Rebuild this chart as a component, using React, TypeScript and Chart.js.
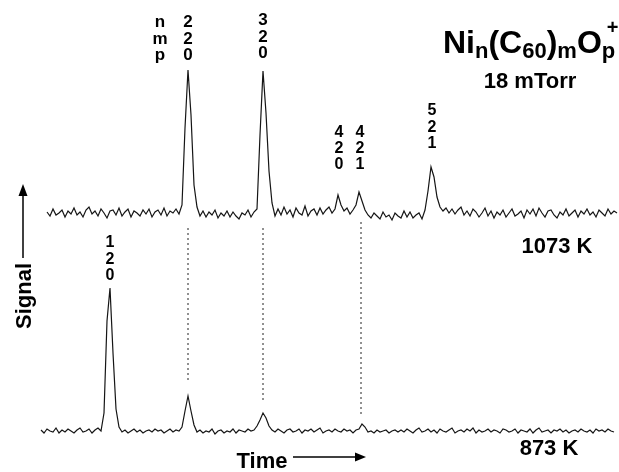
import React, { useEffect, useRef } from "react";
import { Chart, registerables } from "chart.js";

Chart.register(...registerables);

// ---- data ----
// time channels: trace sampled every DT time units, starting at T0
const TOP_T0 = 47;
const BOT_T0 = 41;
const DT = 3;

// signal at 1073 K (arbitrary units, baseline 0)
const signal1073 = [
  1, -3, 4, -2, 0, 3, -4, 2, -1, 5,
  -2, 1, -4, 3, 6, -1, 2, -3, 4, 0,
  -5, 2, 3, -2, 5, -3, 1, 4, -4, 2,
  0, -3, 3, -1, 4, -4, 1, 3, -2, 5,
  -3, 2, 0, 4, -1,
  8, 85, 143, 98, 28, 6,
  -3, 2, -4, 1, -2, 3, -5, 0, -3,
  2, -4, 1, -3, -6, 0, -2, 3, -4, 1,
  4, 78, 142, 100, 42, 10,
  -3, 4, -2, 6,
  -1, 3, -4, 5, 0, -2, 7, -3, 2, 4,
  -2, 5, -1, 3, 6, 0, 4,
  18, 8, 2, 5, -1, 3, 8, 21, 12, 3, -2,
  -5, 0, -3, -6, 1, -4, -2, -7, 0, -3, -5, 2,
  -4, 1, -5, -2, 0, -6,
  3, 22, 46, 36, 16, 6,
  2, 5, 0, 4, -1, 3, 6, -2,
  2, -3, 4, 1, -4, 0, 5, -3, 2, -5,
  1, -2, 3, -4, 0, 4, -3, -1, 2, -5,
  3, -1, 4, -3, 5, 0, -4, 2, 3, -2,
  -5, 1, -2, 4, -3, 0, 3, -4, 2, -1,
  4, -2, 1, -4, 3, 0, -3, 4, -1, 2, 0,
];

// signal at 873 K
const signal873 = [
  1, -2, 2, 0, -1, 3, -2, 1, -1, 2,
  0, -2, 1, 3, -1, 0, 2, -2, 1, 3,
  0,
  18, 110, 143, 78, 22, 4,
  -1, 1, -2, 0, 2, -1, 1, -2, 0, 1, -1, 2, 0,
  1, -2, 0, 2, -1, 1, 0,
  4, 20, 35, 20, 6,
  -1, 1, -2, 0, -1, 2, -3, 0,
  1, -2, 0, -1, 2, -2, 1, 0, -1, 2,
  0, 1,
  5, 11, 18, 13, 5,
  1, -1, 2,
  0, -2, 1, 2, -1, 0, 2, -2, 1, 0,
  2, -1, 1, 3, -2, 0, 1, -1, 2, 0,
  -1, 2, 0, 1, -2, 1, 2,
  7, 4,
  -1, 0, -2, 1, -1, 0, 1, -2, 0, 1, -1,
  1, -1, 2, 0, -2, 1, 3, -1, 0, 2,
  -1, 1, -2, 2, 0, -1, 1, 3, -2, 0,
  1, -1, 2, 0, 3, -2, 1, -1, 0, 2,
  -1, 1, 0, -2, 2, 1, -1, 0, 2, -2,
  1, 0, -1, 2, -2, 1, 3, -1, 0, 1,
  -2, 1, 0, 2, -1, 1, -2, 0, 1, -1,
  2, 0, -1, 1, -2, 2, 0, 1, -1, 2, 0, -1,
];

// dotted guides linking peaks of the two traces (time, from-level, to-level on 873 K axis)
const guideTimes = [188, 263, 361];
const guideFrom = [203, 203, 209];
const guideTo = [48, 31, 14];

// peak assignments (n, m, p)
const peakNames = [
  ["n", "m", "p"],
  ["2", "2", "0"],
  ["3", "2", "0"],
  ["4", "2", "0"],
  ["4", "2", "1"],
  ["5", "2", "1"],
  ["1", "2", "0"],
];
const peakTimes = [160, 188, 263, 339, 360, 432, 110];

// annotation layout (axis, baseline level of last row, font size, row spacing)
const labelLayout = [
  { axis: "yTop", v: 153, size: 17, gap: 16.5 },
  { axis: "yTop", v: 153, size: 17, gap: 16.5 },
  { axis: "yTop", v: 155, size: 17, gap: 16.5 },
  { axis: "yTop", v: 44, size: 16, gap: 16 },
  { axis: "yTop", v: 44, size: 16, gap: 16 },
  { axis: "yTop", v: 65, size: 16, gap: 16.5 },
  { axis: "yBot", v: 151, size: 16, gap: 16.5 },
];

const FONT = '"Liberation Sans", Arial, Helvetica, sans-serif';

const textPlugin = {
  id: "figureText",
  afterDatasetsDraw(chart: any) {
    const ctx: CanvasRenderingContext2D = chart.ctx;
    const xs = chart.scales.x;
    ctx.save();
    ctx.fillStyle = "#000";
    ctx.strokeStyle = "#000";

    // peak labels
    ctx.textAlign = "center";
    ctx.textBaseline = "alphabetic";
    peakNames.forEach((rows, i) => {
      const lay = labelLayout[i];
      const ys = chart.scales[lay.axis];
      const px = xs.getPixelForValue(peakTimes[i]);
      const pyLast = ys.getPixelForValue(lay.v);
      ctx.font = `bold ${lay.size}px ${FONT}`;
      rows.forEach((r, k) => {
        ctx.fillText(r, px, pyLast - (rows.length - 1 - k) * lay.gap);
      });
    });

    // title Ni_n(C60)_m O_p^+
    const big = `bold 32px ${FONT}`;
    const sub = `bold 22px ${FONT}`;
    const segs: [string, string, number][] = [
      ["N", big, 0],
      ["i", big, 0],
      ["n", sub, 5],
      ["(", big, 0],
      ["C", big, 0],
      ["60", sub, 5],
      [")", big, 0],
      ["m", sub, 5],
      ["O", big, 0],
      ["p", sub, 5],
    ];
    let x = 443;
    const base = 53;
    ctx.textAlign = "left";
    let pX = x;
    segs.forEach(([t, f, dy]) => {
      ctx.font = f;
      if (t === "p") pX = x;
      ctx.fillText(t, x, base + dy);
      x += ctx.measureText(t).width;
    });
    ctx.font = `bold 20px ${FONT}`;
    ctx.fillText("+", pX + 5, 34);

    ctx.textAlign = "center";
    ctx.font = `bold 22px ${FONT}`;
    ctx.fillText("18 mTorr", 530, 88);
    ctx.fillText("1073 K", 557, 253);
    ctx.fillText("873 K", 549, 455);

    // Time axis label + arrow
    ctx.fillText("Time", 262, 468);
    ctx.lineWidth = 1.5;
    ctx.beginPath();
    ctx.moveTo(293, 457);
    ctx.lineTo(356, 457);
    ctx.stroke();
    ctx.beginPath();
    ctx.moveTo(366, 457);
    ctx.lineTo(355, 452.5);
    ctx.lineTo(355, 461.5);
    ctx.closePath();
    ctx.fill();

    // Signal axis label + arrow
    ctx.save();
    ctx.translate(31, 296);
    ctx.rotate(-Math.PI / 2);
    ctx.textAlign = "center";
    ctx.fillText("Signal", 0, 0);
    ctx.restore();
    ctx.beginPath();
    ctx.moveTo(23, 258);
    ctx.lineTo(23, 194);
    ctx.stroke();
    ctx.beginPath();
    ctx.moveTo(23, 184);
    ctx.lineTo(18.5, 196);
    ctx.lineTo(27.5, 196);
    ctx.closePath();
    ctx.fill();

    ctx.restore();
  },
};

export default function App() {
  const ref = useRef<HTMLCanvasElement>(null);

  useEffect(() => {
    if (!ref.current) return;
    const topData = signal1073.map((v, i) => ({ x: TOP_T0 + i * DT, y: v }));
    const botData = signal873.map((v, i) => ({ x: BOT_T0 + i * DT, y: v }));
    const guides = guideTimes.map((t, i) => ({
      data: [
        { x: t, y: guideFrom[i] },
        { x: t, y: guideTo[i] },
      ],
      yAxisID: "yBot",
      borderColor: "#222",
      borderWidth: 1,
      borderDash: [2, 3],
      pointRadius: 0,
      fill: false,
    }));

    const chart = new Chart(ref.current, {
      type: "line",
      data: {
        datasets: [
          {
            label: "1073 K",
            data: topData,
            yAxisID: "yTop",
            borderColor: "#151515",
            borderWidth: 1.2,
            pointRadius: 0,
            tension: 0,
            fill: false,
          },
          {
            label: "873 K",
            data: botData,
            yAxisID: "yBot",
            borderColor: "#151515",
            borderWidth: 1.2,
            pointRadius: 0,
            tension: 0,
            fill: false,
          },
          ...guides,
        ] as any,
      },
      options: {
        animation: false,
        responsive: false,
        devicePixelRatio: 1,
        layout: { padding: 0 },
        parsing: false as any,
        normalized: true,
        events: [],
        plugins: {
          legend: { display: false },
          tooltip: { enabled: false },
          title: { display: false },
        },
        scales: {
          x: { type: "linear", min: 0, max: 619, display: false },
          yTop: { type: "linear", min: -259, max: 213, display: false },
          yBot: { type: "linear", min: -41, max: 431, display: false },
        },
      },
      plugins: [textPlugin],
    });
    return () => chart.destroy();
  }, []);

  return (
    <div style={{ position: "absolute", left: 0, top: 0, width: 619, height: 472, background: "#fff" }}>
      <canvas ref={ref} width={619} height={472} style={{ display: "block" }} />
    </div>
  );
}
